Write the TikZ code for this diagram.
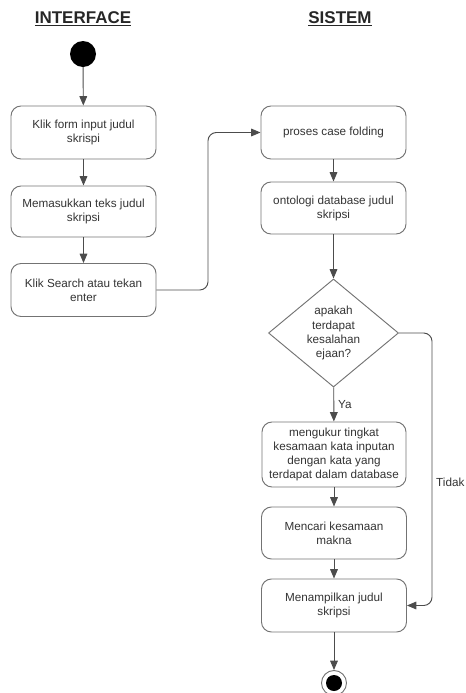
\documentclass[tikz,border=0pt]{standalone}
\usepackage{fontspec}
\setmainfont{Liberation Sans}
\usetikzlibrary{shapes.geometric, arrows.meta}

\begin{document}
\begin{tikzpicture}[
    x=0.03cm, y=-0.03cm,
    font=\fontsize{10}{12}\selectfont,
    % Styles
    lane_title/.style={font=\fontsize{14.5}{17}\selectfont\bfseries, text=black!85},
    start_state/.style={circle, fill=black, minimum size=0.78cm, inner sep=0pt},
    end_state/.style={circle, draw=black!55, thick, minimum size=0.75cm, inner sep=0pt,
        path picture={\fill[black] (path picture bounding box.center) circle (0.24cm);}},
    action/.style={rectangle, rounded corners=0.3cm, draw=black!55, thick, text=black!80,
        align=center, minimum width=4.35cm, minimum height=1.59cm, inner sep=2pt},
    decision/.style={diamond, draw=black!55, thick, text=black!80, align=center,
        minimum width=3.9cm, minimum height=3.24cm, inner sep=0pt},
    flow/.style={-{Triangle[length=2.8mm, width=2.3mm]}, black!70, thick, rounded corners=0.25cm},
    guard/.style={text=black!80}
]

    % ==========================================
    % 0. CANVAS
    % ==========================================
    \useasboundingbox (0,0) rectangle (465,693);

    % ==========================================
    % 1. SWIMLANE TITLES
    % ==========================================
    \node[lane_title] (title_interface) at (83,19) {\underline{INTERFACE}};
    \node[lane_title] (title_sistem) at (340,19) {\underline{SISTEM}};

    % ==========================================
    % 2. INTERFACE ACTIONS
    % ==========================================
    \node[start_state] (start) at (83,54) {};
    \node[action] (klik_form) at (83.5,132.5) {Klik form input judul\\skrispi};
    \node[action, minimum height=1.53cm] (masukkan) at (83.5,211.5) {Memasukkan teks judul\\skripsi};
    \node[action] (search) at (83.5,290) {Klik Search atau tekan\\enter};

    % ==========================================
    % 3. SISTEM ACTIONS
    % ==========================================
    \node[action] (casefold) at (333.5,132.5) {proses case folding};
    \node[action, minimum height=1.56cm] (ontologi) at (333.5,208) {ontologi database judul\\skripsi};
    \node[decision] (cek) at (333.5,333) {apakah\\terdapat\\kesalahan\\ejaan?};
    \node[action, minimum width=4.32cm, minimum height=1.95cm] (ukur) at (334,454.5)
        {mengukur tingkat\\kesamaan kata inputan\\dengan kata yang\\terdapat dalam database};
    \node[action, minimum height=1.56cm] (makna) at (334,533) {Mencari kesamaan\\makna};
    \node[action] (tampil) at (334,605.5) {Menampilkan judul\\skripsi};
    \node[end_state] (finish) at (334,683) {};

    % Bend points
    \coordinate (turn_search) at (208,290);
    \coordinate (turn_tidak) at (432,333);

    % ==========================================
    % 4. TRANSITIONS
    % ==========================================
    \draw[flow] (start) -- (klik_form);
    \draw[flow] (klik_form) -- (masukkan);
    \draw[flow] (masukkan) -- (search);
    \draw[flow] (search.east) -- (turn_search) |- (casefold.west);
    \draw[flow] (casefold) -- (ontologi);
    \draw[flow] (ontologi) -- (cek);
    \draw[flow] (cek) -- node[guard, right] {Ya} (ukur);
    \draw[flow] (ukur) -- (makna);
    \draw[flow] (makna) -- (tampil);
    \draw[flow] (cek.east) -- (turn_tidak) |- (tampil.east);
    \draw[flow] (tampil) -- (finish);

    % Guard on the right branch
    \node[guard, anchor=west, inner sep=0pt] (tidak_lbl) at (436,482) {Tidak};

\end{tikzpicture}
\end{document}
